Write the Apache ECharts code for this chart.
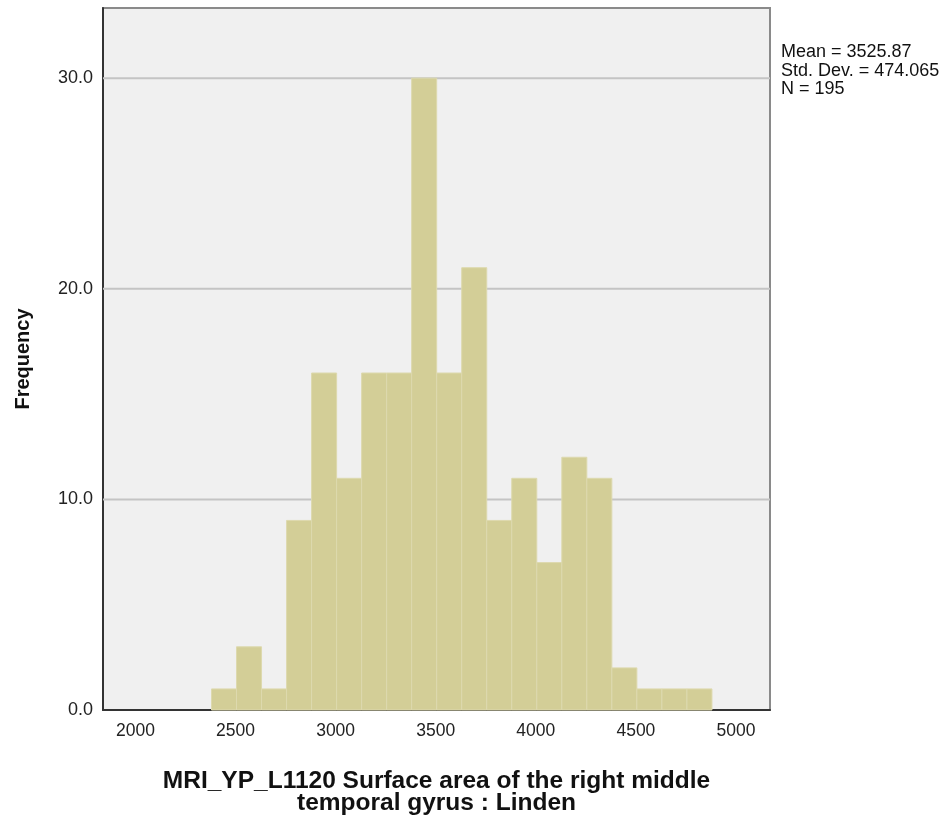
<!DOCTYPE html>
<html>
<head>
<meta charset="utf-8">
<script src="https://cdn.jsdelivr.net/npm/echarts@6/dist/echarts.min.js"></script>
<style>html,body{margin:0;padding:0;background:#fff;}#c{width:946px;height:821px;}</style>
</head>
<body>
<div id="c"></div>
<script>
const binStarts = [2380, 2505, 2630, 2755, 2880, 3005, 3130, 3255, 3380, 3505, 3630, 3755, 3880, 4005, 4130, 4255, 4380, 4505, 4630, 4755];
const binWidth = 125;
const counts = [1, 3, 1, 9, 16, 11, 16, 16, 30, 16, 21, 9, 11, 7, 12, 11, 2, 1, 1, 1];
const xTicks = [2000, 2500, 3000, 3500, 4000, 4500, 5000];
const yTicks = [0, 10, 20, 30];
const statsLines = ['Mean = 3525.87', 'Std. Dev. = 474.065', 'N = 195'];
const xTitle = 'MRI_YP_L1120 Surface area of the right middle\ntemporal gyrus : Linden';
const yTitle = 'Frequency';

const FONT = 'Arial, "Liberation Sans", sans-serif';
const data = binStarts.map((s, i) => [s, s + binWidth, counts[i]]);
const chart = echarts.init(document.getElementById('c'), null, {renderer: 'canvas'});
chart.setOption({
  animation: false,
  grid: {left: 103, top: 8, right: 176, bottom: 111, show: true, backgroundColor: '#f0f0f0', borderColor: '#8a8a8a', borderWidth: 2},
  xAxis: {
    type: 'value', min: 1838, max: 5170,
    axisLine: {show: true, onZero: false, lineStyle: {color: '#333', width: 2}},
    axisTick: {show: false},
    splitLine: {show: false},
    axisLabel: {customValues: xTicks, formatter: v => String(v), color: '#222', fontFamily: FONT, fontSize: 17.5, margin: 12},
    name: xTitle, nameLocation: 'middle', nameGap: 60,
    nameTextStyle: {color: '#111', fontFamily: FONT, fontSize: 24.5, fontWeight: 'bold', lineHeight: 22}
  },
  yAxis: {
    type: 'value', min: 0, max: 33.33,
    axisLine: {show: true, lineStyle: {color: '#333', width: 2}},
    axisTick: {show: false},
    splitLine: {show: false},
    axisLabel: {customValues: yTicks, formatter: v => v.toFixed(1), color: '#222', fontFamily: FONT, fontSize: 18, margin: 10},
    name: yTitle, nameLocation: 'middle', nameGap: 70, nameRotate: 90,
    nameTextStyle: {color: '#111', fontFamily: FONT, fontSize: 20, fontWeight: 'bold'}
  },
  series: [
    {
      type: 'custom',
      data: yTicks.filter(v => v > 0).map(v => [v]),
      z: 1,
      renderItem: function (params, api) {
        const y = api.coord([1838, api.value(0)])[1];
        const cs = params.coordSys;
        return {type: 'line', shape: {x1: cs.x, y1: y, x2: cs.x + cs.width, y2: y}, style: {stroke: '#c4c4c4', lineWidth: 2}};
      }
    },
    {
      type: 'custom',
      data: data,
      z: 2,
      renderItem: function (params, api) {
        const p0 = api.coord([api.value(0), api.value(2)]);
        const p1 = api.coord([api.value(1), 0]);
        return {type: 'rect', shape: {x: p0[0], y: p0[1], width: p1[0] - p0[0], height: p1[1] - p0[1]},
          style: {fill: '#d3ce97', stroke: '#ddd9ae', lineWidth: 1}};
      }
    }
  ],
  graphic: [{
    type: 'text', left: 781, top: 43,
    style: {text: statsLines.join('\n'), fill: '#111', font: '18px Arial, "Liberation Sans", sans-serif', lineHeight: 18.5}
  }]
});
</script>
</body>
</html>
